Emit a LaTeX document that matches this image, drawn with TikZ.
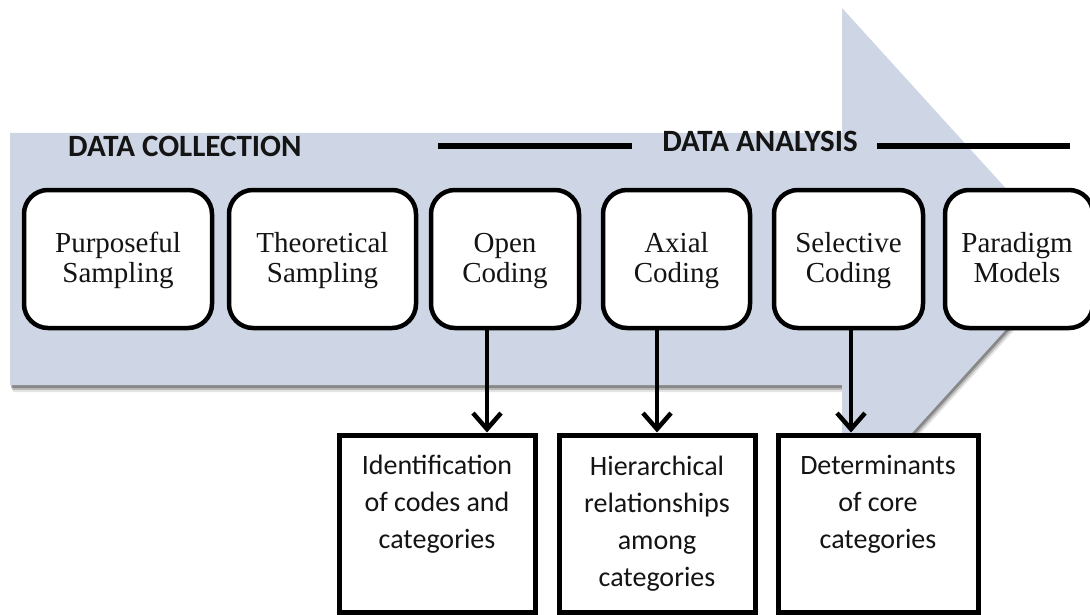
\documentclass[tikz,border=0pt]{standalone}
\usepackage{fontspec}
\setmainfont{Liberation Serif}
\newfontfamily\calfont{Carlito}
\usetikzlibrary{arrows.meta,calc}
\definecolor{arrowfill}{RGB}{206,214,229}
\definecolor{ink}{RGB}{20,20,20}
\tikzset{
  stagebox/.style={draw=black, line width=4.5pt, fill=white, rounded corners=24pt, inner sep=0pt, minimum height=138pt},
  stagetext/.style={font=\fontsize{29}{30}\selectfont, text=ink, align=center, anchor=base, inner sep=0pt},
  resultbox/.style={draw=black, line width=5pt, fill=white, minimum height=177pt},
  resulttext/.style={font=\calfont\fontsize{28}{37}\selectfont, text=ink, align=center, anchor=base, inner sep=0pt},
  headtext/.style={font=\calfont\bfseries\fontsize{31}{32}\selectfont, text=ink, inner sep=0pt},
  conn/.style={line width=4pt, -{Straight Barb[length=16pt,width=28pt,line width=4.5pt]}},
  rule/.style={line width=6pt, black}
}
\begin{document}
\begin{tikzpicture}[x=1pt,y=-1pt]
\useasboundingbox (0,0) rectangle (1090,615);
\clip (0,0) rectangle (1090,615);
% big arrow with soft shadow
\foreach \o/\op in {7/0.10,5/0.18,3/0.28}{
  \fill[black,opacity=\op] (10+\o*0.4,133+\o) -- (842+\o*0.4,133+\o) -- (842+\o*0.4,8+\o) -- (1070+\o*0.4,259+\o) -- (842+\o*0.4,510+\o) -- (842+\o*0.4,385+\o) -- (10+\o*0.4,385+\o) -- cycle;
}
\fill[arrowfill] (10,133) -- (842,133) -- (842,8) -- (1070,259) -- (842,510) -- (842,385) -- (10,385) -- cycle;
% headings
\node[headtext, anchor=base west] (dc) at (68,157) {DATA COLLECTION};
\node[headtext, anchor=base] (da) at (760,152) {DATA ANALYSIS};
\draw[rule] (438,146) -- (632,146);
\draw[rule] (877,146) -- (1070,146);
% stage boxes
\node[stagebox, minimum width=188pt] (ps) at (118,259) {};
\node[stagebox, minimum width=187pt] (ts) at (322.5,259) {};
\node[stagebox, minimum width=148pt] (oc) at (505,259) {};
\node[stagebox, minimum width=147pt] (ac) at (676.5,259) {};
\node[stagebox, minimum width=149pt] (sc) at (848.5,259) {};
\node[stagebox, minimum width=148pt] (pm) at (1019,259) {};
\node[stagetext] (pst) at (ps |- 0,282) {Purposeful\\Sampling};
\node[stagetext] (tst) at (ts |- 0,282) {Theoretical\\Sampling};
\node[stagetext] (oct) at (oc |- 0,282) {Open\\Coding};
\node[stagetext] (act) at (ac |- 0,282) {Axial\\Coding};
\node[stagetext] (sct) at (sc |- 0,282) {Selective\\Coding};
\node[stagetext] (pmt) at (1017,282) {Paradigm\\Models};
% result boxes
\node[resultbox, minimum width=196pt] (ia) at (437,523.5) {};
\node[resultbox, minimum width=196pt] (hr) at (657,523.5) {};
\node[resultbox, minimum width=200pt] (dt) at (878,523.5) {};
\node[resulttext] (iat) at (437,548) {Identification\\of codes and\\categories};
\node[resulttext] (hrt) at (657,586) {Hierarchical\\relationships\\among\\categories};
\node[resulttext] (dtt) at (878,548) {Determinants\\of core\\categories};
% connectors
\draw[conn] ([xshift=-18pt]oc.south) -- ([xshift=-18pt]oc.south |- ia.north);
\draw[conn] ([xshift=-19.5pt]ac.south) -- ([xshift=-19.5pt]ac.south |- hr.north);
\draw[conn] ([xshift=2.5pt]sc.south) -- ([xshift=2.5pt]sc.south |- dt.north);
\end{tikzpicture}
\end{document}
